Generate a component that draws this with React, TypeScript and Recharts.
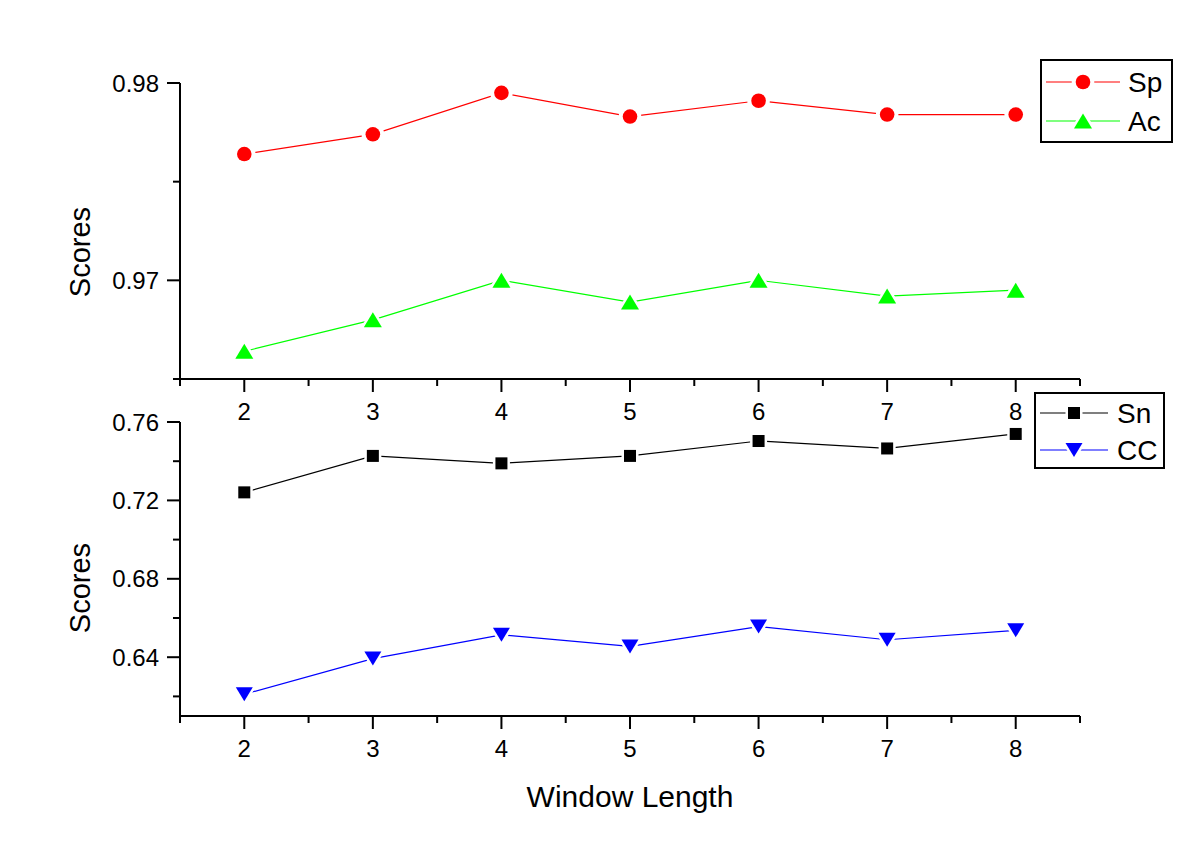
import { LineChart, Line, XAxis, YAxis, Legend } from "recharts";

const windowLengths = [2, 3, 4, 5, 6, 7, 8];
const spScores = [0.9764, 0.9774, 0.9795, 0.9783, 0.9791, 0.9784, 0.9784];
const acScores = [0.9664, 0.968, 0.97, 0.9689, 0.97, 0.9692, 0.9695];
const snScores = [0.7241, 0.7427, 0.7389, 0.7427, 0.7503, 0.7465, 0.7539];
const ccScores = [0.6211, 0.6393, 0.6514, 0.6455, 0.6556, 0.6489, 0.6537];

const xTicks = [1.5, 2, 2.5, 3, 3.5, 4, 4.5, 5, 5.5, 6, 6.5, 7, 7.5, 8, 8.5];
const topTicks = [0.965, 0.97, 0.975, 0.98];
const topLabelled = [0.97, 0.98];
const bottomTicks = [0.62, 0.64, 0.66, 0.68, 0.7, 0.72, 0.74, 0.76];
const bottomLabelled = [0.64, 0.68, 0.72, 0.76];
const seriesOrder = ["Sp", "Ac", "Sn", "CC"];

const data = windowLengths.map((w, i) => ({
  w,
  Sp: spScores[i],
  Ac: acScores[i],
  Sn: snScores[i],
  CC: ccScores[i],
}));

const FONT = "'Liberation Sans', Arial, sans-serif";

type Shape = "circle" | "square" | "up" | "down";
const markerShapes: Record<string, Shape> = { Sp: "circle", Ac: "up", Sn: "square", CC: "down" };

function Marker({ shape, cx, cy, color }: { shape: Shape; cx: number; cy: number; color: string }) {
  if (cx == null || cy == null) return null;
  const halo = { stroke: "#fff", paintOrder: "stroke" as const };
  if (shape === "circle") {
    return <circle cx={cx} cy={cy} r={7.3} fill={color} strokeWidth={8} {...halo} />;
  }
  if (shape === "square") {
    return <rect x={cx - 6} y={cy - 6} width={12} height={12} fill={color} strokeWidth={5} {...halo} />;
  }
  if (shape === "up") {
    const pts = `${cx},${cy - 7.5} ${cx - 9},${cy + 7.5} ${cx + 9},${cy + 7.5}`;
    return <polygon points={pts} fill={color} strokeWidth={5} strokeLinejoin="round" {...halo} />;
  }
  const pts = `${cx - 8.5},${cy - 7} ${cx + 8.5},${cy - 7} ${cx},${cy + 7}`;
  return <polygon points={pts} fill={color} strokeWidth={5} strokeLinejoin="round" {...halo} />;
}

const near = (a: number, b: number) => Math.abs(a - b) < 1e-9;

function YTick({ x, y, payload, majors }: any) {
  const major = majors.some((m: number) => near(m, payload.value));
  const len = major ? 13 : 7;
  return (
    <g>
      <line x1={x - len} x2={x} y1={y} y2={y} stroke="#000" strokeWidth={2} />
      {major && (
        <text x={x - 21} y={y} textAnchor="end" dominantBaseline="central" fontSize={24} fontFamily={FONT} fill="#000">
          {payload.value.toFixed(2)}
        </text>
      )}
    </g>
  );
}

function XTick({ x, y, payload }: any) {
  const major = Number.isInteger(payload.value);
  const len = major ? 13 : 7;
  return (
    <g>
      <line x1={x} x2={x} y1={y} y2={y + len} stroke="#000" strokeWidth={2} />
      {major && (
        <text x={x} y={y + 41} textAnchor="middle" fontSize={24} fontFamily={FONT} fill="#000">
          {payload.value}
        </text>
      )}
    </g>
  );
}

function ScoresLabel({ cy }: { cy: number }) {
  return (
    <text
      x={80}
      y={cy}
      transform={`rotate(-90, 80, ${cy})`}
      textAnchor="middle"
      dominantBaseline="central"
      fontSize={29}
      fontFamily={FONT}
      fill="#000"
    >
      Scores
    </text>
  );
}

function LegendBox({ payload, w, h, rows, lineX1, lineX2, markX, textX }: any) {
  const items = [...(payload || [])].sort(
    (a: any, b: any) => seriesOrder.indexOf(a.dataKey) - seriesOrder.indexOf(b.dataKey)
  );
  return (
    <svg width={w} height={h} style={{ display: "block" }}>
      <rect x={1} y={1} width={w - 2} height={h - 2} fill="#fff" stroke="#000" strokeWidth={2} />
      {items.map((entry: any, i: number) => (
        <g key={entry.value}>
          <line x1={lineX1} x2={lineX2} y1={rows[i]} y2={rows[i]} stroke={entry.color} strokeWidth={1.2} />
          <Marker shape={markerShapes[entry.dataKey]} cx={markX} cy={rows[i]} color={entry.color} />
          <text x={textX} y={rows[i]} dominantBaseline="central" fontSize={28} fontFamily={FONT} fill="#000">
            {entry.value}
          </text>
        </g>
      ))}
    </svg>
  );
}

const axisLine = { stroke: "#000", strokeWidth: 2 };

function seriesLine(key: string, color: string) {
  return (
    <Line
      key={key}
      type="linear"
      dataKey={key}
      name={key}
      stroke={color}
      strokeWidth={1.2}
      activeDot={false}
      isAnimationActive={false}
      dot={(p: any) => (
        <Marker key={`${key}-${p.index}`} shape={markerShapes[key]} cx={p.cx} cy={p.cy} color={color} />
      )}
    />
  );
}

export default function App() {
  return (
    <div style={{ position: "absolute", left: 0, top: 0, width: 1200, height: 843, background: "#fff" }}>
      <div style={{ position: "absolute", left: 0, top: 0 }}>
        <LineChart width={1200} height={430} data={data} margin={{ top: 83, right: 120, bottom: 1, left: 0 }}>
          <XAxis
            dataKey="w"
            type="number"
            domain={[1.5, 8.5]}
            ticks={xTicks}
            interval={0}
            height={50}
            tickSize={0}
            tickMargin={0}
            tickLine={false}
            axisLine={axisLine}
            tick={(p: any) => <XTick {...p} />}
          />
          <YAxis
            type="number"
            domain={[0.965, 0.98]}
            ticks={topTicks}
            interval={0}
            width={180}
            tickSize={0}
            tickMargin={0}
            tickLine={false}
            axisLine={axisLine}
            tick={(p: any) => <YTick {...p} majors={topLabelled} />}
            label={() => <ScoresLabel cy={252} />}
          />
          {seriesLine("Sp", "#ff0000")}
          {seriesLine("Ac", "#00ff00")}
          <Legend
            layout="horizontal"
            verticalAlign="middle"
            align="center"
            wrapperStyle={{ left: 1040, top: 59, width: 133, height: 84 }}
            content={(p: any) => (
              <LegendBox payload={p.payload} w={133} h={84} rows={[23, 62]} lineX1={6} lineX2={80} markX={43} textX={88} />
            )}
          />
        </LineChart>
      </div>
      <div style={{ position: "absolute", left: 0, top: 390 }}>
        <LineChart width={1200} height={453} data={data} margin={{ top: 32, right: 120, bottom: 27, left: 0 }}>
          <XAxis
            dataKey="w"
            type="number"
            domain={[1.5, 8.5]}
            ticks={xTicks}
            interval={0}
            height={100}
            tickSize={0}
            tickMargin={0}
            tickLine={false}
            axisLine={axisLine}
            tick={(p: any) => <XTick {...p} />}
            label={() => (
              <text x={630} y={417} textAnchor="middle" fontSize={30} fontFamily={FONT} fill="#000">
                Window Length
              </text>
            )}
          />
          <YAxis
            type="number"
            domain={[0.61, 0.76]}
            ticks={bottomTicks}
            interval={0}
            width={180}
            tickSize={0}
            tickMargin={0}
            tickLine={false}
            axisLine={axisLine}
            tick={(p: any) => <YTick {...p} majors={bottomLabelled} />}
            label={() => <ScoresLabel cy={198} />}
          />
          {seriesLine("Sn", "#000000")}
          {seriesLine("CC", "#0000ff")}
          <Legend
            layout="horizontal"
            verticalAlign="middle"
            align="center"
            wrapperStyle={{ left: 1034, top: 2, width: 131, height: 77 }}
            content={(p: any) => (
              <LegendBox payload={p.payload} w={131} h={77} rows={[21, 58]} lineX1={6} lineX2={74} markX={40} textX={83} />
            )}
          />
        </LineChart>
      </div>
    </div>
  );
}
